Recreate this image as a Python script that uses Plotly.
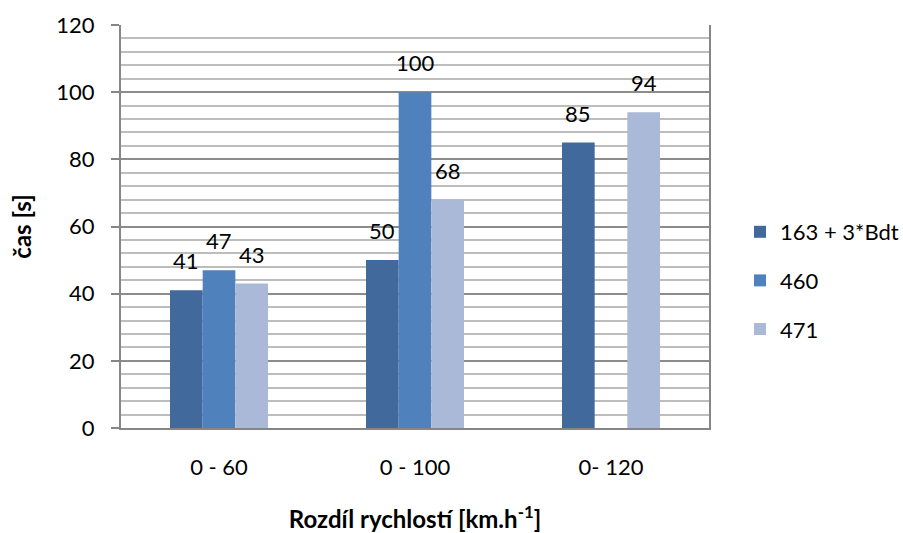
import plotly.graph_objects as go

categories = ["0 - 60", "0 - 100", "0- 120"]
series_names = ["163 + 3*Bdt", "460", "471"]
series_values = [
    [41, 50, 85],
    [47, 100, None],
    [43, 68, 94],
]
series_colors = ["#41699b", "#4f81bd", "#aab9d8"]
y_ticks = [0, 20, 40, 60, 80, 100, 120]

FONT = "Lato"
bar_w = 1 / 6
offsets = [-bar_w, 0, bar_w]
x_pos = list(range(len(categories)))

fig = go.Figure()
annotations = []
for i, (name, vals, col) in enumerate(zip(series_names, series_values, series_colors)):
    fig.add_trace(go.Bar(
        x=x_pos, y=vals, name=name, width=bar_w, offset=offsets[i] - bar_w / 2,
        marker=dict(color=col, line=dict(width=0)),
        legendgroup=name,
    ))
    for xi, v in zip(x_pos, vals):
        if v is None:
            continue
        annotations.append(dict(
            x=xi + offsets[i], y=v, xref="x", yref="y", text=str(v),
            showarrow=False, yanchor="bottom", yshift=14,
            font=dict(family=FONT, size=22, color="#000000"),
        ))

fig.update_layout(
    width=903, height=533,
    margin=dict(l=121, r=194, t=25, b=105, autoexpand=False),
    paper_bgcolor="white", plot_bgcolor="white",
    font=dict(family=FONT, size=22, color="#000000"),
    barmode="overlay",
    showlegend=True,
    legend=dict(
        x=1.0527, y=0.366, xanchor="left", yanchor="middle",
        font=dict(family=FONT, size=22),
        traceorder="grouped", tracegroupgap=17,
        itemwidth=30,
    ),
    annotations=annotations,
    xaxis=dict(
        range=[-0.5, 2.5], tickvals=x_pos, ticktext=categories,
        showgrid=False, zeroline=False, automargin=False,
        showline=True, linecolor="#868686", linewidth=2,
        ticks="", ticklabelstandoff=19,
        tickfont=dict(family=FONT, size=22),
        title=dict(text="<b>Rozdíl rychlostí [km.h<sup>-1</sup>]</b>",
                   font=dict(family=FONT, size=24), standoff=33),
    ),
    yaxis=dict(
        range=[0, 120], tickvals=y_ticks, automargin=False,
        showgrid=True, gridcolor="#8c8c8c", gridwidth=1.5,
        minor=dict(dtick=4, showgrid=True, gridcolor="#bdbdbd", gridwidth=1.5),
        zeroline=False,
        showline=True, linecolor="#868686", linewidth=2, mirror=True,
        ticks="outside", ticklen=8, tickcolor="#868686", tickwidth=2,
        ticklabelstandoff=12,
        tickfont=dict(family=FONT, size=22),
        title=dict(text="<b>čas [s]</b>", font=dict(family=FONT, size=24), standoff=18),
    ),
)

fig.write_html("out.html")
